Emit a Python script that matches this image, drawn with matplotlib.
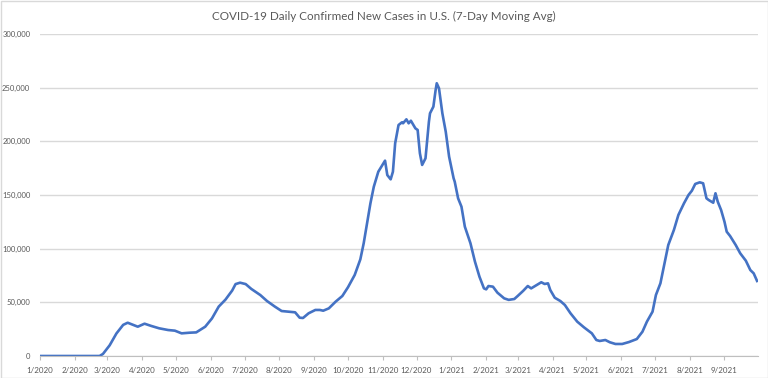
import matplotlib
matplotlib.use("Agg")
import matplotlib.pyplot as plt
import matplotlib.dates as mdates
import pandas as pd
from matplotlib.patches import Rectangle
from matplotlib.ticker import FuncFormatter

# 7-day moving average of new US cases
dates = [
    "2020-01-01", "2020-02-19", "2020-02-23", "2020-02-26", "2020-03-03", "2020-03-09",
    "2020-03-15", "2020-03-19", "2020-03-24", "2020-03-28", "2020-04-03", "2020-04-09",
    "2020-04-16", "2020-04-24", "2020-04-30", "2020-05-06", "2020-05-13", "2020-05-19",
    "2020-05-27", "2020-06-02", "2020-06-08", "2020-06-14", "2020-06-20", "2020-06-23",
    "2020-06-27", "2020-07-02", "2020-07-07", "2020-07-15", "2020-07-21", "2020-07-28",
    "2020-08-03", "2020-08-09", "2020-08-15", "2020-08-19", "2020-08-22", "2020-08-27",
    "2020-09-02", "2020-09-06", "2020-09-09", "2020-09-14", "2020-09-20", "2020-09-26",
    "2020-10-01", "2020-10-07", "2020-10-12", "2020-10-15", "2020-10-18", "2020-10-21",
    "2020-10-24", "2020-10-28", "2020-11-03", "2020-11-05", "2020-11-08", "2020-11-10",
    "2020-11-12", "2020-11-15", "2020-11-18", "2020-11-19", "2020-11-22", "2020-11-24",
    "2020-11-26", "2020-11-30", "2020-12-02", "2020-12-04", "2020-12-06", "2020-12-09",
    "2020-12-12", "2020-12-13", "2020-12-16", "2020-12-18", "2020-12-19", "2020-12-21",
    "2020-12-24", "2020-12-27", "2020-12-30", "2021-01-03", "2021-01-04", "2021-01-07",
    "2021-01-10", "2021-01-13", "2021-01-18", "2021-01-22", "2021-01-26", "2021-01-30",
    "2021-02-01", "2021-02-03", "2021-02-07", "2021-02-11", "2021-02-17", "2021-02-21",
    "2021-02-26", "2021-03-01", "2021-03-06", "2021-03-10", "2021-03-13", "2021-03-18",
    "2021-03-22", "2021-03-25", "2021-03-28", "2021-03-30", "2021-04-03", "2021-04-08",
    "2021-04-12", "2021-04-17", "2021-04-23", "2021-04-29", "2021-05-06", "2021-05-10",
    "2021-05-13", "2021-05-18", "2021-05-22", "2021-05-27", "2021-06-02", "2021-06-08",
    "2021-06-15", "2021-06-20", "2021-06-24", "2021-06-29", "2021-07-02", "2021-07-06",
    "2021-07-09", "2021-07-13", "2021-07-18", "2021-07-22", "2021-07-27", "2021-07-31",
    "2021-08-03", "2021-08-06", "2021-08-10", "2021-08-13", "2021-08-16", "2021-08-18",
    "2021-08-22", "2021-08-24", "2021-08-26", "2021-08-29", "2021-09-01", "2021-09-03",
    "2021-09-06", "2021-09-11", "2021-09-15", "2021-09-20", "2021-09-24", "2021-09-27",
    "2021-09-30",
]
cases = [
    0, 0, 0, 1900, 10000, 21000,
    29000, 31000, 29000, 27300, 30100, 28000,
    25800, 24200, 23600, 21100, 21700, 22000,
    27300, 35000, 46000, 52500, 61000, 67000,
    68300, 67000, 62500, 56800, 51200, 46000,
    41900, 41300, 40700, 35700, 35400, 39800,
    42900, 42900, 42200, 44400, 50600, 55900,
    64000, 75500, 90000, 105000, 123600, 142300,
    157700, 171700, 182000, 168600, 164600, 171700,
    198200, 215200, 217700, 216800, 220500, 216800,
    219200, 212100, 210600, 188900, 178000, 184200,
    218000, 226100, 232300, 247800, 254100, 249400,
    226100, 209000, 185700, 165600, 162400, 146900,
    139100, 120500, 105000, 87900, 73900, 63000,
    62100, 65200, 64600, 59000, 53700, 52300,
    53100, 55900, 60800, 65200, 63000, 66200,
    68700, 67100, 67700, 61500, 54300, 51200,
    47500, 39800, 32000, 26700, 21100, 14900,
    14000, 14900, 12800, 11200, 11200, 13000,
    15800, 22600, 32000, 41300, 56800, 67700,
    83200, 103400, 117400, 131400, 142300, 150000,
    154000, 160300, 161800, 160900, 146900, 145300,
    142800, 151600, 143800, 136000, 125100, 115800,
    111800, 103400, 95700, 88800, 80100, 77000,
    69900,
]

plt.rcParams["font.family"] = ["Lato", "DejaVu Sans"]
grey_text = "#595959"

x = pd.to_datetime(dates)

fig = plt.figure(figsize=(7.68, 3.78), dpi=100)
ax = fig.add_axes([40 / 768, 22 / 378, 718 / 768, 322 / 378])

ax.plot(x, cases, color="#4472C4", linewidth=1.9, solid_joinstyle="round")

ax.set_xlim(pd.Timestamp("2020-01-01"), pd.Timestamp("2021-09-30 20:00"))
ax.set_ylim(0, 300000)
ax.set_yticks(range(0, 300001, 50000))
ax.yaxis.set_major_formatter(FuncFormatter(lambda v, p: f"{int(v):,}"))
ax.xaxis.set_major_locator(mdates.MonthLocator())
ax.xaxis.set_major_formatter(FuncFormatter(
    lambda v, p: f"{mdates.num2date(v).month}/{mdates.num2date(v).year}"))

ax.grid(axis="y", color="#d9d9d9", linewidth=1)
ax.set_axisbelow(True)
for side in ["left", "right", "top"]:
    ax.spines[side].set_visible(False)
ax.spines["bottom"].set_color("#bfbfbf")
ax.tick_params(axis="y", length=0, pad=7, labelsize=5.5, labelcolor=grey_text)
ax.tick_params(axis="x", length=3, color="#bfbfbf", pad=5, labelsize=5.8,
               labelcolor=grey_text)

fig.text(0.5, 1 - 16 / 378, "COVID-19 Daily Confirmed New Cases in U.S. (7-Day Moving Avg)",
         ha="center", va="center", fontsize=8.4, color=grey_text)

fig.patches.append(Rectangle((0.5 / 768, 0.5 / 378), 767 / 768, 377 / 378,
                             transform=fig.transFigure, fill=False,
                             edgecolor="#d9d9d9", linewidth=1))

fig.savefig("out.png", dpi=100)
